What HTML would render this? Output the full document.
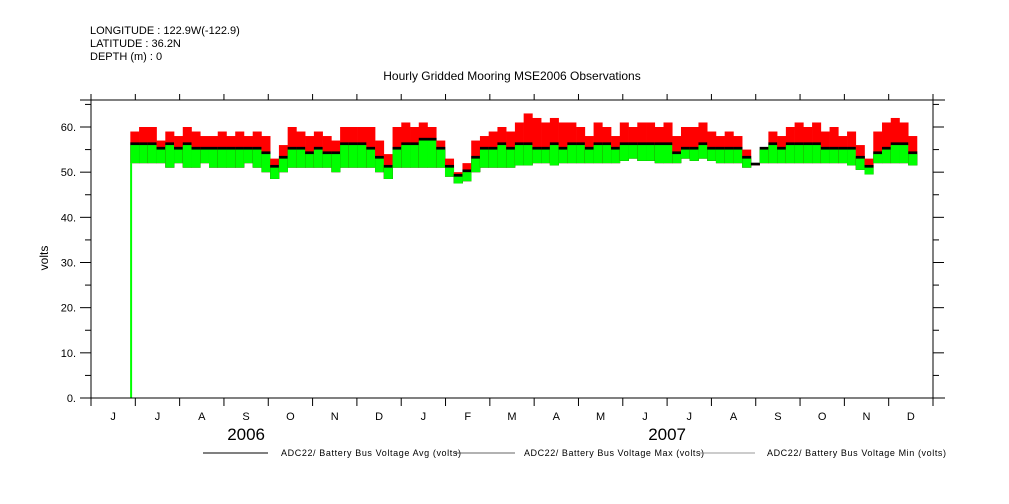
<!DOCTYPE html>
<html><head><meta charset="utf-8"><style>
body{margin:0;background:#fff;}
svg{display:block;font-family:"Liberation Sans","DejaVu Sans",sans-serif;}
</style></head><body>
<svg id="chart" width="1009" height="504" viewBox="0 0 1009 504" xmlns="http://www.w3.org/2000/svg">
<g font-size="11" fill="#000">
<text x="90" y="34">LONGITUDE : 122.9W(-122.9)</text>
<text x="90" y="47">LATITUDE : 36.2N</text>
<text x="90" y="60">DEPTH (m) : 0</text>
<text x="512" y="80" text-anchor="middle" font-size="12">Hourly Gridded Mooring MSE2006 Observations</text>
</g>
<text x="48" y="258" font-size="12" text-anchor="middle" transform="rotate(-90 48 258)">volts</text>
<g id="marks"></g>
<g id="axes"></g>
<g font-size="9">
<line x1="203" y1="453" x2="268" y2="453" stroke="#000"/>
<text x="281" y="456" textLength="180" lengthAdjust="spacing">ADC22/ Battery Bus Voltage Avg (volts)</text>
<line x1="455" y1="453" x2="515" y2="453" stroke="#333" stroke-width="0.8"/>
<text x="524" y="456" textLength="180" lengthAdjust="spacing">ADC22/ Battery Bus Voltage Max (volts)</text>
<line x1="700" y1="453" x2="755" y2="453" stroke="#777" stroke-width="0.8"/>
<text x="767" y="456" textLength="179" lengthAdjust="spacing">ADC22/ Battery Bus Voltage Min (volts)</text>
</g>
</svg>
<script>
const startDay = 27;
const stepDays = 6;
const maxV = [59,60,60,57,59,58,60,59,58,58, 59,58,59,58,59,58,53,56,60,59, 58,59,58,57,60,60,60,60,57,54, 60,61,60,61,60,57,53,50,52,57, 58,59,60,59,61,63,62,61,62,61, 61,60,58,61,60,58,61,60,61,61, 60,61,58,60,60,61,59,58,59,58, 55,52,55,59,58,60,61,60,61,59, 60,58,59,56,53,59,61,62,61,58];
const avgV = [56,56,56,55,56,55,56,55,55,55, 55,55,55,55,55,54,51,53,55,55, 54,55,54,54,56,56,56,55,53,51, 55,56,56,57,57,55,51,49,50,53, 55,55,56,55,56,56,55,55,56,55, 56,56,55,56,56,55,56,56,56,56, 56,56,54,55,55,56,55,55,55,55, 53,51.5,55,56,55,56,56,56,56,55, 55,55,55,53,51,54,55,56,56,54];
const minV = [52,52,52,52,51,52,51,51,52,51, 51,51,51,52,51,50,48.5,50,51,51, 51,51,51,50,51,51,51,51,50,48.5, 51,51,51,51,51,51,49,47.5,48,50, 51,51,51,51,51.5,51.5,52,52,51.5,52, 52,52,52,52,52,52,52.5,53,52.5,52.5, 52,52,52,53,52.5,53,52.5,52,52,52, 51,51.5,52,52,52,52,52,52,52,52, 52,52,51.5,50.5,49.5,52,52,52,52,51.5];
const dropDays = [26.5];
const dropValues = [0];
const yTicks = [0,10,20,30,40,50,60];
const monthLabels = ["J","J","A","S","O","N","D","J","F","M","A","M","J","J","A","S","O","N","D"];
const yearLabels = ["2006","2007"];

const NS="http://www.w3.org/2000/svg";
const X0=91,X1=933,Y0=398,YT=100,DAYS=578;
const xs=d=>X0+(X1-X0)*d/DAYS;
const ys=v=>Y0-v*(Y0-127)/60;
const marks=document.getElementById('marks');
const axes=document.getElementById('axes');
function mk(tag,attrs,parent){const e=document.createElementNS(NS,tag);for(const k in attrs)e.setAttribute(k,attrs[k]);parent.appendChild(e);return e;}
const w=xs(stepDays)-xs(0);
for(let i=0;i<maxV.length;i++){
  const x=xs(startDay+i*stepDays);
  let r=mk('rect',{x:x,y:ys(maxV[i]),width:w+0.3,height:ys(minV[i])-ys(maxV[i]),fill:'#ff0000'},marks);
  
  
  let b=mk('rect',{x:x,y:ys(avgV[i]+0.6),width:w+0.3,height:ys(minV[i])-ys(avgV[i]+0.6),fill:'#000'},marks);
  
  
  let g=mk('rect',{x:x,y:ys(avgV[i]),width:w+0.3,height:ys(minV[i])-ys(avgV[i]),fill:'#00ff00'},marks);
  
  
}
for(let i=0;i<dropDays.length;i++){
  let l=mk('line',{x1:xs(dropDays[i])+1.5,x2:xs(dropDays[i])+1.5,y1:ys(minV[0]),y2:ys(dropValues[i]),stroke:'#00ff00','stroke-width':2},marks);
  
  
}
mk('line',{x1:X0,y1:96,x2:X0,y2:Y0,stroke:'#000'},axes);
mk('line',{x1:X1,y1:96,x2:X1,y2:Y0,stroke:'#000'},axes);
mk('line',{x1:80,y1:YT,x2:945,y2:YT,stroke:'#000'},axes);
mk('line',{x1:80,y1:Y0,x2:945,y2:Y0,stroke:'#000'},axes);
for(let v=0;v<=65;v+=5){
  const y=ys(v);const len=(v%10===0)?11:6;
  mk('line',{x1:X0-len,y1:y,x2:X0,y2:y,stroke:'#000'},axes);
  mk('line',{x1:X1,y1:y,x2:X1+len,y2:y,stroke:'#000'},axes);
}
yTicks.forEach(v=>{
  let t=mk('text',{x:76,y:ys(v)+4,'text-anchor':'end','font-size':11},axes);
  t.textContent=v+'.';
  
  
});
const mw=(X1-X0)/monthLabels.length;
for(let i=0;i<=monthLabels.length;i++){
  const x=X0+i*mw;
  mk('line',{x1:x,y1:Y0,x2:x,y2:Y0+8,stroke:'#000'},axes);
  mk('line',{x1:x,y1:YT-6,x2:x,y2:YT,stroke:'#000'},axes);
}
monthLabels.forEach((m,i)=>{
  let t=mk('text',{x:X0+(i+0.5)*mw,y:Y0+22,'text-anchor':'middle','font-size':11},axes);
  t.textContent=m;
  
  
});
[3.5,13.0].forEach((p,i)=>{
  let t=mk('text',{x:X0+p*mw,y:440,'text-anchor':'middle','font-size':17},axes);
  t.textContent=yearLabels[i];
  
  
});
</script>
</body></html>
